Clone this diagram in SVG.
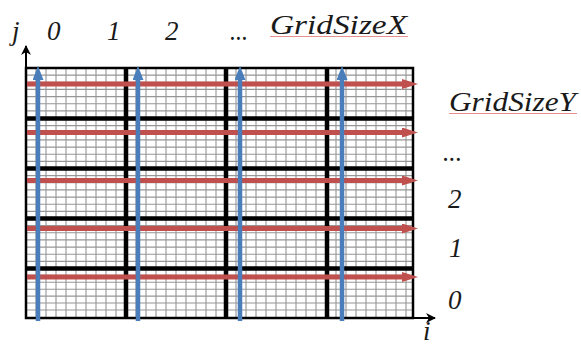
<svg xmlns="http://www.w3.org/2000/svg" width="581" height="348" viewBox="0 0 581 348">
<style>
  .lbl { font-family: "Liberation Serif", "Times New Roman", serif; font-style: italic; font-size: 27px; fill: #1a1a1a; }
  .fine { stroke: #969696; stroke-width: 1.1; fill: none; }
  .thick { stroke: #000; stroke-width: 4.5; fill: none; }
  .border { stroke: #000; stroke-width: 2; fill: #fff; }
  .red { stroke: #c0504d; stroke-width: 5; fill: none; }
  .blue { stroke: #4a7ebb; stroke-width: 4.5; fill: none; }
  .axis { stroke: #000; stroke-width: 2; fill: none; }
  .squiggle { stroke: #e89090; stroke-width: 1; fill: none; }
</style>
<defs>
  <marker id="redHead" markerWidth="16" markerHeight="10" refX="0" refY="5" orient="auto" markerUnits="userSpaceOnUse">
    <path d="M0 0 L16 5 L0 10 Z" fill="#c0504d"/>
  </marker>
  <marker id="blueHead" markerWidth="14" markerHeight="11" refX="0" refY="5.5" orient="auto" markerUnits="userSpaceOnUse">
    <path d="M0 0 L14 5.5 L0 11 Z" fill="#4a7ebb"/>
  </marker>
  <marker id="axHead" markerWidth="10" markerHeight="10" refX="9" refY="5" orient="auto" markerUnits="userSpaceOnUse">
    <path d="M0 0 L10 5 L0 10 L3 5 Z" fill="#000"/>
  </marker>
</defs>

<g id="grid">
  <rect class="border" x="26" y="68" width="387" height="250"/>
  <path class="fine" d="M36 68V318M46 68V318M56 68V318M66 68V318M76 68V318M86 68V318M96 68V318M106 68V318M116 68V318M136 68V318M146 68V318M156 68V318M166 68V318M176 68V318M186 68V318M196 68V318M206 68V318M216 68V318M236 68V318M246 68V318M256 68V318M266 68V318M276 68V318M286 68V318M296 68V318M306 68V318M316 68V318M336 68V318M346 68V318M356 68V318M366 68V318M376 68V318M386 68V318M396 68V318M406 68V318"/>
  <path class="fine" d="M26 75.1H413M26 82.3H413M26 89.4H413M26 96.6H413M26 103.7H413M26 110.9H413M26 125.6H413M26 132.8H413M26 139.9H413M26 147.1H413M26 154.2H413M26 161.4H413M26 175.6H413M26 182.8H413M26 189.9H413M26 197.1H413M26 204.2H413M26 211.4H413M26 225.6H413M26 232.8H413M26 239.9H413M26 247.1H413M26 254.2H413M26 261.4H413M26 275.4H413M26 282.3H413M26 289.2H413M26 296.1H413M26 303H413M26 310H413"/>
  <path class="thick" d="M26 118.5H413M26 168.5H413M26 218.5H413M26 268.5H413"/>
  <path class="thick" d="M126 68V318M226 68V318M327 68V318" stroke-width="5"/>
  <rect x="26" y="68" width="387" height="250" fill="none" stroke="#000" stroke-width="2.5"/>
</g>

<g id="axes">
  <path class="axis" d="M26 318V46" marker-end="url(#axHead)"/>
  <path class="axis" d="M26 318H435" marker-end="url(#axHead)"/>
</g>

<g id="connectors">
  <g id="rows">
    <path class="red" d="M27 84H402" marker-end="url(#redHead)"/>
    <path class="red" d="M27 132.5H402" marker-end="url(#redHead)"/>
    <path class="red" d="M27 180.5H402" marker-end="url(#redHead)"/>
    <path class="red" d="M27 228.5H402" marker-end="url(#redHead)"/>
    <path class="red" d="M27 277H402" marker-end="url(#redHead)"/>
  </g>
  <g id="columns">
    <path class="blue" d="M38 321V80" marker-end="url(#blueHead)"/>
    <path class="blue" d="M138 321V80" marker-end="url(#blueHead)"/>
    <path class="blue" d="M240 321V80" marker-end="url(#blueHead)"/>
    <path class="blue" d="M342 321V80" marker-end="url(#blueHead)"/>
  </g>
</g>

<g id="labels-x">
  <text class="lbl" x="12" y="40">j</text>
  <text class="lbl" x="47" y="40">0</text>
  <text class="lbl" x="107" y="40">1</text>
  <text class="lbl" x="165" y="40">2</text>
  <text class="lbl" x="230" y="40" textLength="18" lengthAdjust="spacingAndGlyphs">...</text>
  <text class="lbl" x="270" y="34" textLength="137" lengthAdjust="spacingAndGlyphs">GridSizeX</text>
  <path class="squiggle" d="M270 36.5H408"/>
</g>

<g id="labels-y">
  <text class="lbl" x="449" y="111" textLength="127" lengthAdjust="spacingAndGlyphs">GridSizeY</text>
  <path class="squiggle" d="M449 113.5H577"/>
  <text class="lbl" x="443" y="161" textLength="19" lengthAdjust="spacingAndGlyphs">...</text>
  <text class="lbl" x="448" y="208">2</text>
  <text class="lbl" x="449" y="257">1</text>
  <text class="lbl" x="448" y="309">0</text>
  <text class="lbl" x="423" y="340" font-size="24">i</text>
</g>
</svg>
